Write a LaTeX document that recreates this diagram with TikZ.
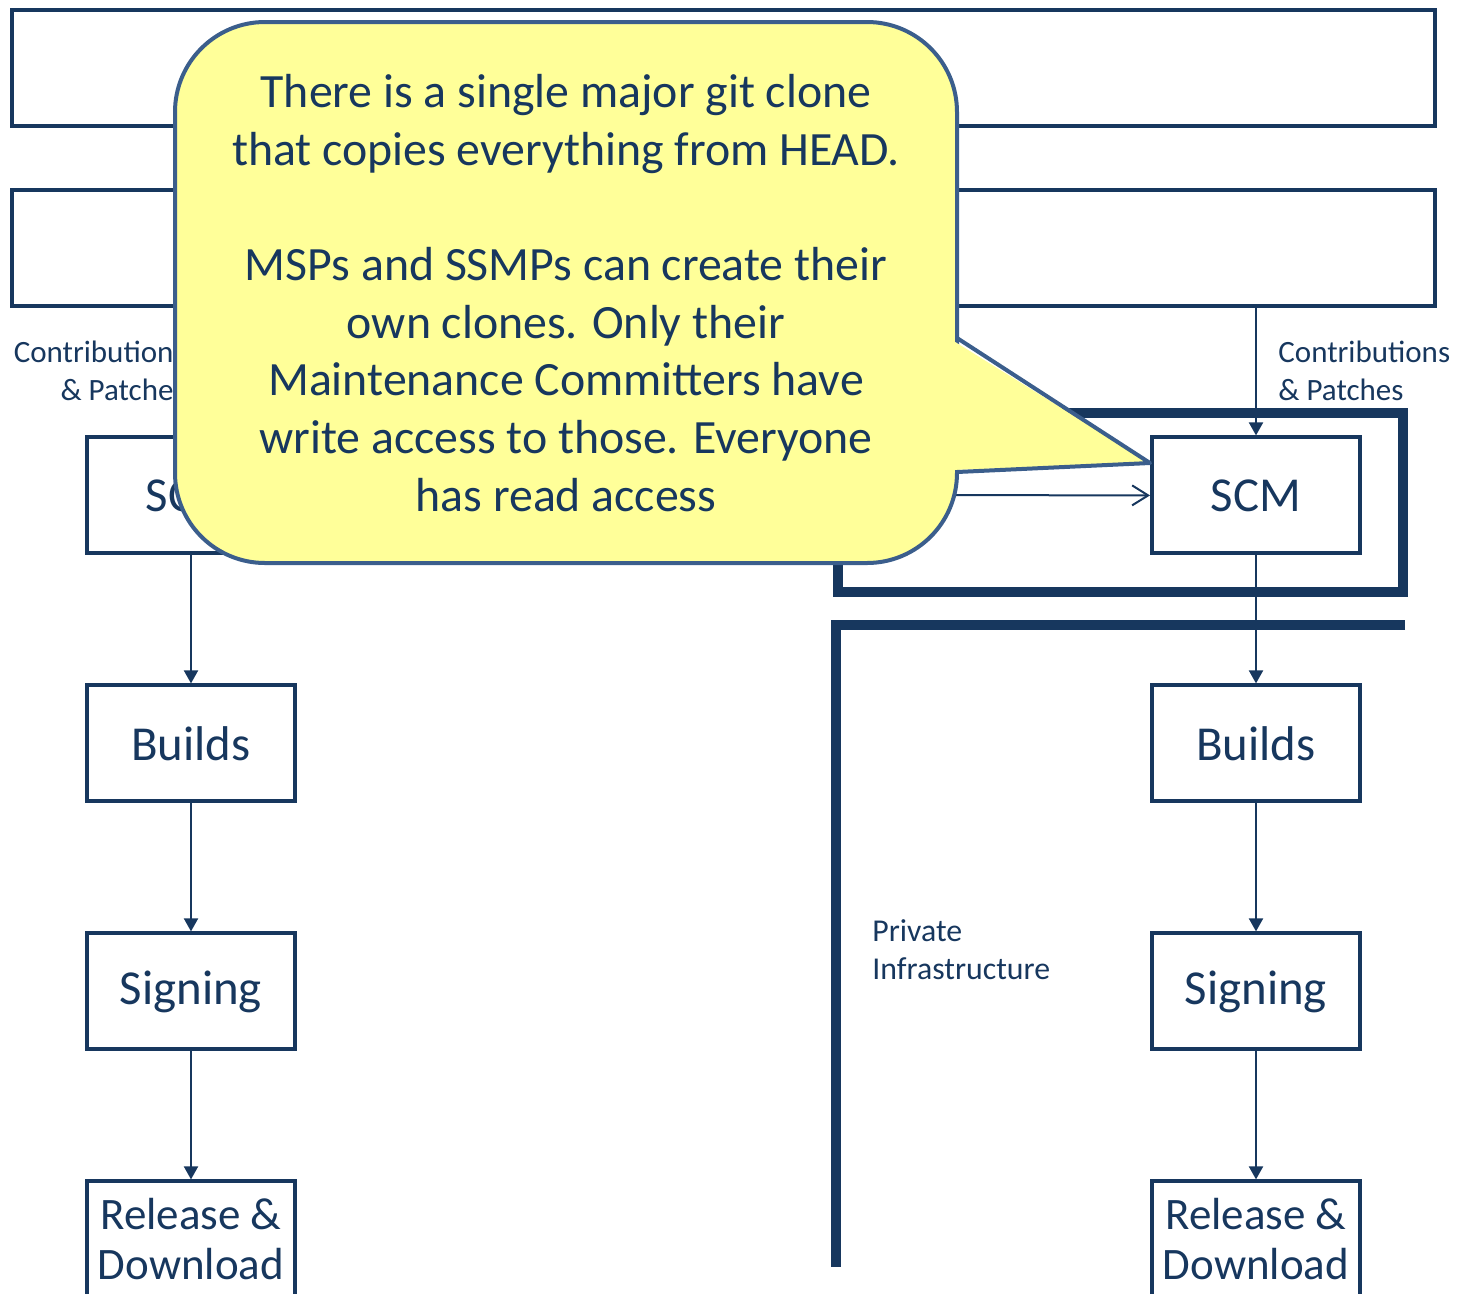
\documentclass[tikz,border=0pt]{standalone}
\usepackage{fontspec}
\setmainfont{Carlito}
\usetikzlibrary{arrows.meta}
\definecolor{navy}{RGB}{23,55,94}
\definecolor{noteline}{RGB}{59,94,140}
\definecolor{notefill}{RGB}{255,255,153}
\tikzset{
	stage/.style = {draw = navy, line width = 2pt, minimum width = 104pt, minimum height = 58pt, inner sep = 1pt, text = navy, align = center, font = \fontsize{24.4}{25}\selectfont},
	cut/.style = {font = \fontsize{22.5}{25}\selectfont},
	bar/.style = {draw = navy, line width = 2.2pt, minimum width = 711.5pt, minimum height = 58pt},
	flow/.style = {draw = navy, line width = 1pt, -{Triangle[length = 6.5pt, width = 7pt]}},
	feed/.style = {draw = navy, line width = 1pt, -{Straight Barb[length = 8pt, width = 10pt]}},
	wall/.style = {draw = navy, line width = 5pt},
	small/.style = {text = navy, inner sep = 0pt, font = \fontsize{15.5}{19}\selectfont},
}
\begin{document}
\begin{tikzpicture}[x = 0.5pt, y = -0.5pt]
		\useasboundingbox (0,0) rectangle (1462,1297);
		\clip (0,0) rectangle (1462,1293);
		\node (top1) [bar] at (723.5,68) {};
		\node (top2) [bar] at (723.5,248) {};
		\matrix (lcol) [anchor = north, inner sep = 0pt, row sep = 64pt, nodes = {stage}] at (191,435) {
			\node (lscm) {SCM}; \\
			\node (lbuild) {Builds}; \\
			\node (lsign) {Signing}; \\
			\node (lrel) [cut] {Release \&\\Download}; \\
		};
		\begin{scope} [xshift = 532.5pt]
			\matrix (rcol) [anchor = north, inner sep = 0pt, row sep = 64pt, nodes = {stage}] at (191,435) {
				\node (rscm) {SCM}; \\
				\node (rbuild) {Builds}; \\
				\node (rsign) {Signing}; \\
				\node (rrel) [cut] {Release \&\\Download}; \\
			};
		\end{scope}
		\draw[flow] (top2.south -| lscm.north) -- (lscm.north);
		\draw[flow] (lscm) -- (lbuild);
		\draw[flow] (lbuild) -- (lsign);
		\draw[flow] (lsign) -- (lrel);
		\draw[flow] (top2.south -| rscm.north) -- (rscm.north);
		\draw[flow] (rscm) -- (rbuild);
		\draw[flow] (rbuild) -- (rsign);
		\draw[flow] (rsign) -- (rrel);
		\node (lpatch) [small, anchor = north east, align = right] at (186,341) {Contributions\\\& Patches};
		\node (rpatch) [small, anchor = north west, align = left] at (1278,341) {Contributions\\\& Patches};
		\node (private) [small, anchor = north west, align = left, font = \fontsize{15.9}{19}\selectfont] at (872,919) {Private\\Infrastructure};
		\coordinate (mirror) at (900,495);
		\draw[feed] (mirror) -- (rscm.west);
		\draw[wall] (838,413) rectangle (1403,592);
		\draw[wall] (1405,625) -- (836,625) -- (836,1267);
		% callout
		\draw[line width = 2pt, draw = noteline, fill = notefill, rounded corners = 45pt] (175,22) rectangle (957,563);
		\fill[notefill] (952,340) -- (1150,463) -- (952,470) -- cycle;
		\draw[line width = 2pt, draw = noteline, line join = round] (957,338) -- (1150,463) -- (957,472);
		\node (note) [align = center, text = navy, font = \fontsize{23.9}{28.85}\selectfont] at (566,293) {There is a single major git clone\\that copies everything from HEAD.\\[28.85pt]MSPs and SSMPs can create their\\own clones. Only their\\Maintenance Committers have\\write access to those. Everyone\\has read access};
	\end{tikzpicture}
\end{document}
